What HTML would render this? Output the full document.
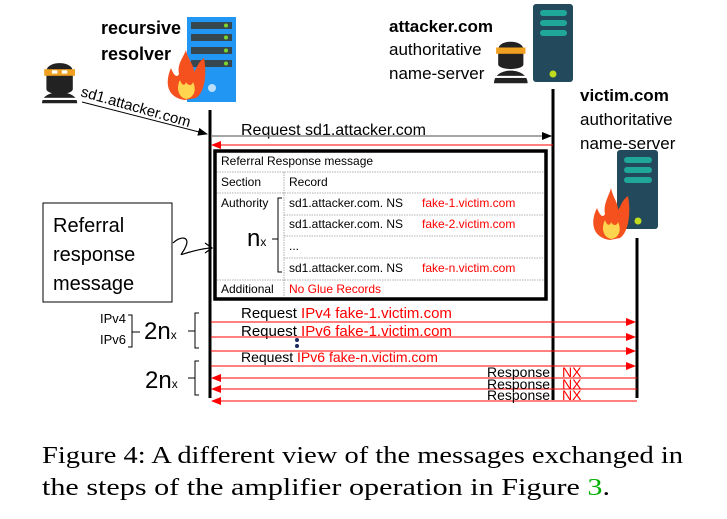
<!DOCTYPE html>
<html><head><meta charset="utf-8"><style>
html,body{margin:0;padding:0;background:#fff;}
svg{display:block;}
.s{font-family:"Liberation Sans",sans-serif;}
</style></head><body>
<svg width="727" height="519" viewBox="0 0 727 519" xmlns="http://www.w3.org/2000/svg">
<defs>
<marker id="ab" markerWidth="10" markerHeight="8" refX="9" refY="4" orient="auto" markerUnits="userSpaceOnUse"><path d="M0,0 L10,4 L0,8z" fill="#000"/></marker>
<marker id="ar" markerWidth="10" markerHeight="8" refX="9" refY="4" orient="auto" markerUnits="userSpaceOnUse"><path d="M0,0 L10,4 L0,8z" fill="#f00"/></marker>
</defs>
<g class="s">
<!-- resolver server -->
<rect x="187" y="17" width="49" height="85" fill="#2196f3"/>
<g fill="#37474f"><rect x="191" y="22" width="41" height="7"/><rect x="191" y="34" width="41" height="7"/><rect x="191" y="47" width="41" height="7"/><rect x="191" y="60" width="41" height="7"/></g>
<g fill="#7cd62b"><circle cx="226" cy="25.5" r="2"/><circle cx="226" cy="37.5" r="2"/><circle cx="226" cy="50.5" r="2"/><circle cx="226" cy="63.5" r="2"/></g>
<circle cx="212" cy="88" r="4" fill="#bbdefb"/>
<!-- fire 1 -->
<path d="M185,100 C168,98 164,84 171,68 C174,76 177,78 179,74 C177,64 183,58 186,50 C188,60 194,64 194,72 C197,68 198,62 204,58 C207,74 205,92 196,98 Z" fill="#f4511e"/>
<path d="M186,99 C178,97 176,88 180,80 C182,86 185,86 186,82 C188,86 192,86 193,82 C197,90 194,98 186,99Z" fill="#ffd54f"/>
<text x="101" y="34" font-size="18" font-weight="bold">recursive</text>
<text x="101" y="60" font-size="18" font-weight="bold">resolver</text>
<!-- attacker person left -->
<g transform="translate(42,56) scale(1.1)">
<path d="M4,14 C4,4 28,4 28,14 L28,30 C28,36 4,36 4,30Z" fill="#222"/>
<rect x="2" y="12" width="28" height="6" fill="#f0a020"/>
<rect x="9" y="13" width="5" height="3" fill="#fff"/><rect x="18" y="13" width="5" height="3" fill="#fff"/>
<path d="M0,43 C0,36 8,33 16,33 C24,33 32,36 32,43Z" fill="#222"/>
<rect x="0" y="38" width="32" height="2" fill="#fff"/>
</g>
<text x="0" y="0" font-size="15" transform="translate(80,96) rotate(16)">sd1.attacker.com</text>
<line x1="82" y1="102" x2="207" y2="134" stroke="#000" stroke-width="1" marker-end="url(#ab)"/>
<!-- attacker ns -->
<text x="389" y="32" font-size="17" font-weight="bold">attacker.com</text>
<text x="389" y="55" font-size="17">authoritative</text>
<text x="389" y="79" font-size="17">name-server</text>
<g transform="translate(494,37) scale(1.05)">
<path d="M4,12 C4,2 28,2 28,12 L28,26 C28,32 4,32 4,26Z" fill="#222"/>
<rect x="2" y="10" width="28" height="6" fill="#f0a020"/>
<path d="M0,44 C0,36 8,32 16,32 C24,32 32,36 32,44Z" fill="#222"/>
<rect x="0" y="37" width="32" height="2" fill="#fff"/>
</g>
<rect x="533" y="4" width="40" height="78" rx="3" fill="#234a5c"/>
<g fill="#1fa89a"><rect x="540" y="10" width="27" height="6" rx="3"/><rect x="540" y="20" width="27" height="6" rx="3"/><rect x="540" y="30" width="27" height="6" rx="3"/></g>
<circle cx="553" cy="74" r="3.5" fill="#c0dc1c"/>
<!-- victim ns -->
<text x="580" y="101" font-size="17" font-weight="bold">victim.com</text>
<text x="580" y="125" font-size="17">authoritative</text>
<text x="580" y="149" font-size="17">name-server</text>
<rect x="617" y="150" width="41" height="79" rx="3" fill="#234a5c"/>
<g fill="#1fa89a"><rect x="624" y="157" width="28" height="6" rx="3"/><rect x="624" y="167" width="28" height="6" rx="3"/><rect x="624" y="177" width="28" height="6" rx="3"/></g>
<circle cx="638" cy="221" r="3.5" fill="#c0dc1c"/>
<path d="M610,240 C594,238 589,224 597,208 C600,216 603,218 605,214 C603,204 609,196 611,188 C613,198 618,202 618,210 C621,206 622,200 628,196 C631,212 629,232 620,238Z" fill="#f4511e"/>
<path d="M611,239 C603,237 601,228 605,220 C607,226 610,226 611,222 C613,226 617,226 618,222 C622,230 619,238 611,239Z" fill="#ffd54f"/>
<!-- lifelines -->
<line x1="210" y1="110" x2="210" y2="398" stroke="#000" stroke-width="3"/>
<line x1="553" y1="89" x2="553" y2="400" stroke="#000" stroke-width="3"/>
<line x1="637" y1="238" x2="637" y2="398" stroke="#000" stroke-width="3"/>
<!-- first request/response -->
<text x="241" y="135" font-size="16">Request sd1.attacker.com</text>
<line x1="211" y1="136" x2="551" y2="136" stroke="#888" stroke-width="1.5" marker-end="url(#ab)"/>
<line x1="553" y1="145" x2="212" y2="145" stroke="#f00" stroke-width="1" marker-end="url(#ar)"/>
<!-- referral box -->
<rect x="215" y="151" width="331" height="148" fill="#fff" stroke="#000" stroke-width="3.5"/>
<g stroke="#999" stroke-width="0.8" stroke-dasharray="1.5,1">
<line x1="217" y1="172" x2="544" y2="172"/>
<line x1="217" y1="193" x2="544" y2="193"/>
<line x1="284" y1="215" x2="544" y2="215"/>
<line x1="284" y1="236" x2="544" y2="236"/>
<line x1="284" y1="258" x2="544" y2="258"/>
<line x1="217" y1="280" x2="544" y2="280"/>
<line x1="284" y1="172" x2="284" y2="297"/>
</g>
<g font-size="12">
<text x="221" y="165">Referral Response message</text>
<text x="221" y="186">Section</text>
<text x="289" y="186">Record</text>
<text x="221" y="207">Authority</text>
<text x="289" y="207">sd1.attacker.com.  NS</text><text x="422" y="207" fill="#f00">fake-1.victim.com</text>
<text x="289" y="228">sd1.attacker.com.  NS</text><text x="422" y="228" fill="#f00">fake-2.victim.com</text>
<text x="289" y="250">...</text>
<text x="289" y="272">sd1.attacker.com.  NS</text><text x="422" y="272" fill="#f00">fake-n.victim.com</text>
<text x="221" y="293">Additional</text>
<text x="289" y="293" fill="#f00">No Glue Records</text>
</g>
<text x="247" y="246" font-size="24">n<tspan font-size="12">x</tspan></text>
<path d="M282,198 L278,198 L278,272 L282,272 M272,239 L278,239" fill="none" stroke="#000" stroke-width="1"/>
<!-- referral response label -->
<rect x="43" y="203" width="129" height="99" fill="#fff" stroke="#000" stroke-width="1"/>
<text x="53" y="232" font-size="20">Referral</text>
<text x="53" y="261" font-size="20">response</text>
<text x="53" y="290" font-size="20">message</text>
<path d="M173,243 C180,236 190,236 186,246 C182,256 176,256 190,252 C198,250 204,248 212,248 M205,243 L212,248 L205,253" fill="none" stroke="#000" stroke-width="1.2"/>
<!-- requests -->
<text x="241" y="318" font-size="15">Request <tspan fill="#f00">IPv4  fake-1.victim.com</tspan></text>
<text x="241" y="336" font-size="15">Request <tspan fill="#f00">IPv6  fake-1.victim.com</tspan></text>
<text x="241" y="362" font-size="14">Request <tspan fill="#f00">IPv6  fake-n.victim.com</tspan></text>
<circle cx="297" cy="340" r="2" fill="#1a2a60"/><circle cx="297" cy="346" r="2" fill="#1a2a60"/>
<g stroke="#f00" stroke-width="1">
<line x1="211" y1="322" x2="635" y2="322" marker-end="url(#ar)"/>
<line x1="211" y1="337" x2="635" y2="337" marker-end="url(#ar)"/>
<line x1="211" y1="351" x2="635" y2="351" marker-end="url(#ar)"/>
<line x1="211" y1="366" x2="635" y2="366" marker-end="url(#ar)"/>
<line x1="637" y1="378" x2="212" y2="378" marker-end="url(#ar)"/>
<line x1="637" y1="389" x2="212" y2="389" marker-end="url(#ar)"/>
<line x1="637" y1="401" x2="212" y2="401" marker-end="url(#ar)"/>
</g>
<g font-size="14">
<text x="487" y="377">Response</text><text x="562" y="377" fill="#f00">NX</text>
<text x="487" y="389">Response</text><text x="562" y="389" fill="#f00">NX</text>
<text x="487" y="400">Response</text><text x="562" y="400" fill="#f00">NX</text>
</g>
<!-- left labels -->
<text x="100" y="323" font-size="13">IPv4</text>
<text x="100" y="344" font-size="13">IPv6</text>
<path d="M128,315 L132,315 L132,347 L128,347 M132,332 L140,332" fill="none" stroke="#000" stroke-width="1"/>
<text x="144" y="339" font-size="24">2n<tspan font-size="12">x</tspan></text>
<path d="M199,313 L195,313 L195,348 L199,348 M188,331 L195,331" fill="none" stroke="#000" stroke-width="1"/>
<text x="145" y="388" font-size="24">2n<tspan font-size="12">x</tspan></text>
<path d="M199,361 L195,361 L195,395 L199,395 M188,378 L195,378" fill="none" stroke="#000" stroke-width="1"/>
</g>
<!-- caption -->
<g font-family="'Liberation Serif',serif" font-size="24">
<text x="42" y="463" textLength="641" lengthAdjust="spacingAndGlyphs">Figure 4:  A different view of the messages exchanged in</text>
<text x="42" y="495" textLength="568" lengthAdjust="spacingAndGlyphs">the steps of the amplifier operation in Figure <tspan fill="#00b000">3</tspan>.</text>
</g>
</svg>
</body></html>
